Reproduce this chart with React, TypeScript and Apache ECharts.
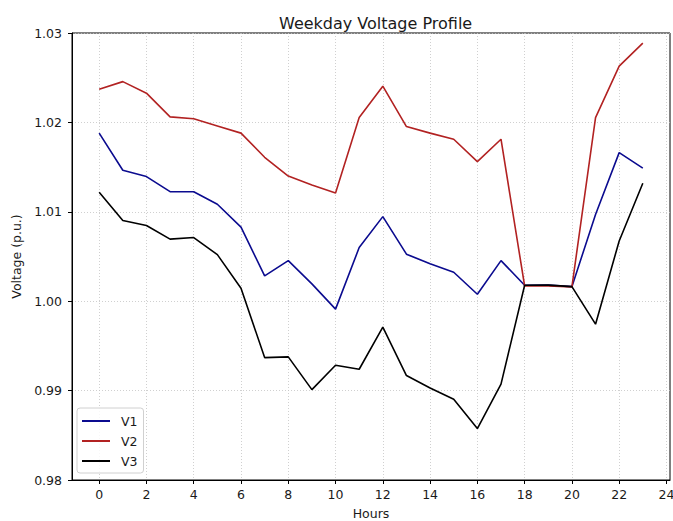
import React, { useEffect, useRef } from "react";
import * as echarts from "echarts";

const hours = [0, 1, 2, 3, 4, 5, 6, 7, 8, 9, 10, 11, 12, 13, 14, 15, 16, 17, 18, 19, 20, 21, 22, 23];
const v1 = [1.0188, 1.01465, 1.01394, 1.01226, 1.01224, 1.01085, 1.00828, 1.00283, 1.00454, 1.00194, 0.99911, 1.0060, 1.00946, 1.00526, 1.0042, 1.00324, 1.00078, 1.00454, 1.00179, 1.0018, 1.00163, 1.0097, 1.01662, 1.01488];
const v2 = [1.0237, 1.02456, 1.02327, 1.02062, 1.0204, 1.0196, 1.0188, 1.0161, 1.0140, 1.0130, 1.0121, 1.02054, 1.02405, 1.01953, 1.0188, 1.01812, 1.01562, 1.01812, 1.0017, 1.0017, 1.0016, 1.02054, 1.0263, 1.02886];
const v3 = [1.01219, 1.00902, 1.00846, 1.00694, 1.00712, 1.00521, 1.00145, 0.99369, 0.99377, 0.99011, 0.99284, 0.99239, 0.99709, 0.99168, 0.9903, 0.98904, 0.98575, 0.99072, 1.00179, 1.0018, 1.00163, 0.99743, 1.00674, 1.0132];
const xTicks = [0, 2, 4, 6, 8, 10, 12, 14, 16, 18, 20, 22, 24];
const seriesNames = ["V1", "V2", "V3"];
const seriesColors = ["#0b0b8f", "#b22222", "#000000"];

const FONT = "DejaVu Sans";

export default function App() {
  const ref = useRef<HTMLDivElement>(null);
  useEffect(() => {
    if (!ref.current) return;
    const chart = echarts.init(ref.current, null, { renderer: "svg" });
    const data = [v1, v2, v3];
    const gridLine = { show: true, lineStyle: { color: "#c4c4c4", type: [1, 2], width: 0.8 } };
    chart.setOption({
      animation: false,
      textStyle: { fontFamily: FONT },
      title: {
        text: "Weekday Voltage Profile",
        left: 274,
        top: 10,
        textStyle: { fontFamily: FONT, fontSize: 16, fontWeight: "normal", color: "#1a1a1a" },
      },
      grid: {
        left: 72,
        right: 3,
        top: 33,
        bottom: 41,
        outerBoundsMode: "none",
        containLabel: false,
        show: true,
        borderColor: "#000",
        borderWidth: 1,
        backgroundColor: "transparent",
      },
      legend: {
        orient: "vertical",
        left: 77,
        top: 408,
        padding: [6, 6, 5, 5],
        icon: "rect",
        itemWidth: 28,
        itemHeight: 2,
        itemGap: 6,
        backgroundColor: "rgba(255,255,255,0.85)",
        borderColor: "#d0d0d0",
        borderWidth: 1,
        borderRadius: 3,
        textStyle: { fontFamily: FONT, fontSize: 12.5, color: "#1a1a1a", lineHeight: 14, padding: [0, 0, 0, 6] },
        data: seriesNames,
      },
      xAxis: {
        type: "value",
        min: -1.15,
        max: 24.15,
        name: "Hours",
        nameLocation: "middle",
        nameGap: 27,
        nameTextStyle: { fontFamily: FONT, fontSize: 12.5, color: "#1a1a1a" },
        axisLine: { show: true, onZero: false, lineStyle: { color: "#000" } },
        axisTick: { show: true, customValues: xTicks, length: 4, lineStyle: { color: "#000" } },
        axisLabel: {
          customValues: xTicks,
          fontFamily: FONT,
          fontSize: 12.5,
          color: "#1a1a1a",
          margin: 8,
        },
        splitLine: gridLine,
      },
      yAxis: {
        type: "value",
        min: 0.98,
        max: 1.03,
        interval: 0.01,
        name: "Voltage (p.u.)",
        nameLocation: "middle",
        nameGap: 48,
        nameTextStyle: { fontFamily: FONT, fontSize: 12.5, color: "#1a1a1a" },
        axisLine: { show: true, onZero: false, lineStyle: { color: "#000" } },
        axisTick: { show: true, length: 4, lineStyle: { color: "#000" } },
        axisLabel: {
          fontFamily: FONT,
          fontSize: 12.5,
          color: "#1a1a1a",
          margin: 10,
          formatter: (v: number) => v.toFixed(2),
        },
        splitLine: gridLine,
      },
      series: seriesNames.map((name, i) => ({
        name,
        type: "line",
        symbol: "none",
        showSymbol: false,
        color: seriesColors[i],
        lineStyle: { width: 1.6, color: seriesColors[i] },
        data: hours.map((h, j) => [h, data[i][j]]),
      })),
    });
    return () => chart.dispose();
  }, []);
  return <div ref={ref} style={{ width: 673, height: 521, position: "absolute", left: 0, top: 0 }} />;
}
